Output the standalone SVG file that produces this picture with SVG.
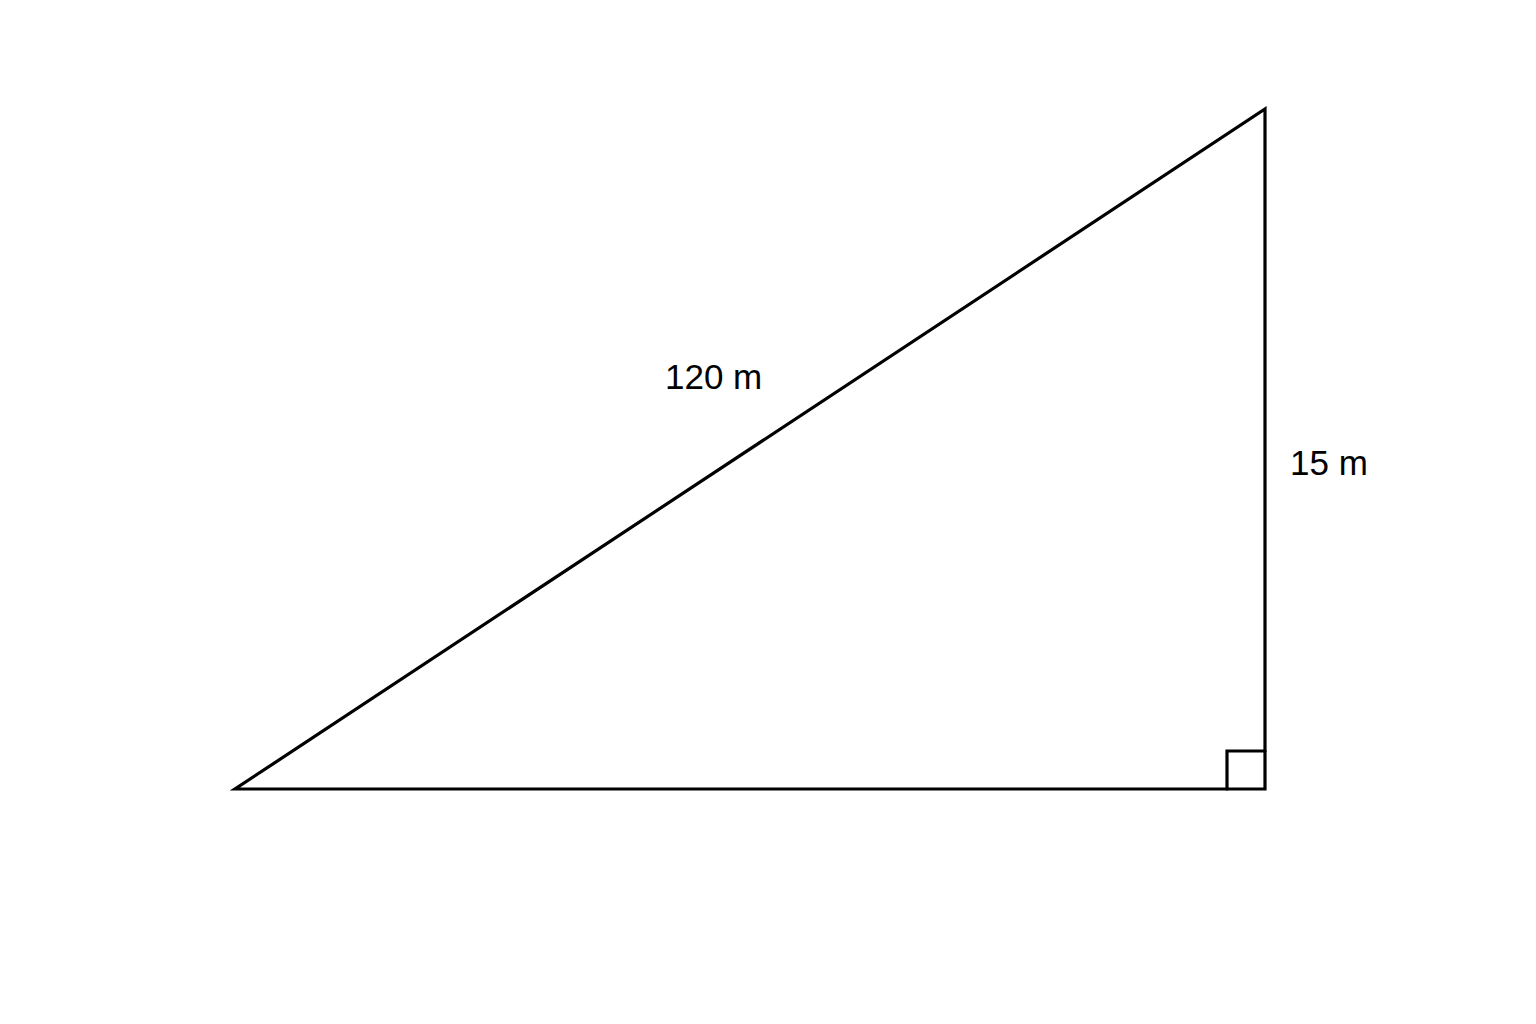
<svg xmlns="http://www.w3.org/2000/svg" width="1536" height="1024" viewBox="0 0 1536 1024">
<style>
.ln{fill:none;stroke:#000;stroke-width:3.2;stroke-linejoin:miter;stroke-linecap:round}
.lb{font-family:"Liberation Sans",Arial,sans-serif;font-size:35px;fill:#000}
</style>
<rect width="1536" height="1024" fill="#fff"/>
<g id="triangle">
<polygon class="ln" points="235,789 1265,789 1265,109"/>
<polyline class="ln" points="1227,789 1227,751 1265,751"/>
</g>
<g id="labels">
<text class="lb" x="665" y="389">120 m</text>
<text class="lb" x="1290" y="475">15 m</text>
</g>
</svg>
